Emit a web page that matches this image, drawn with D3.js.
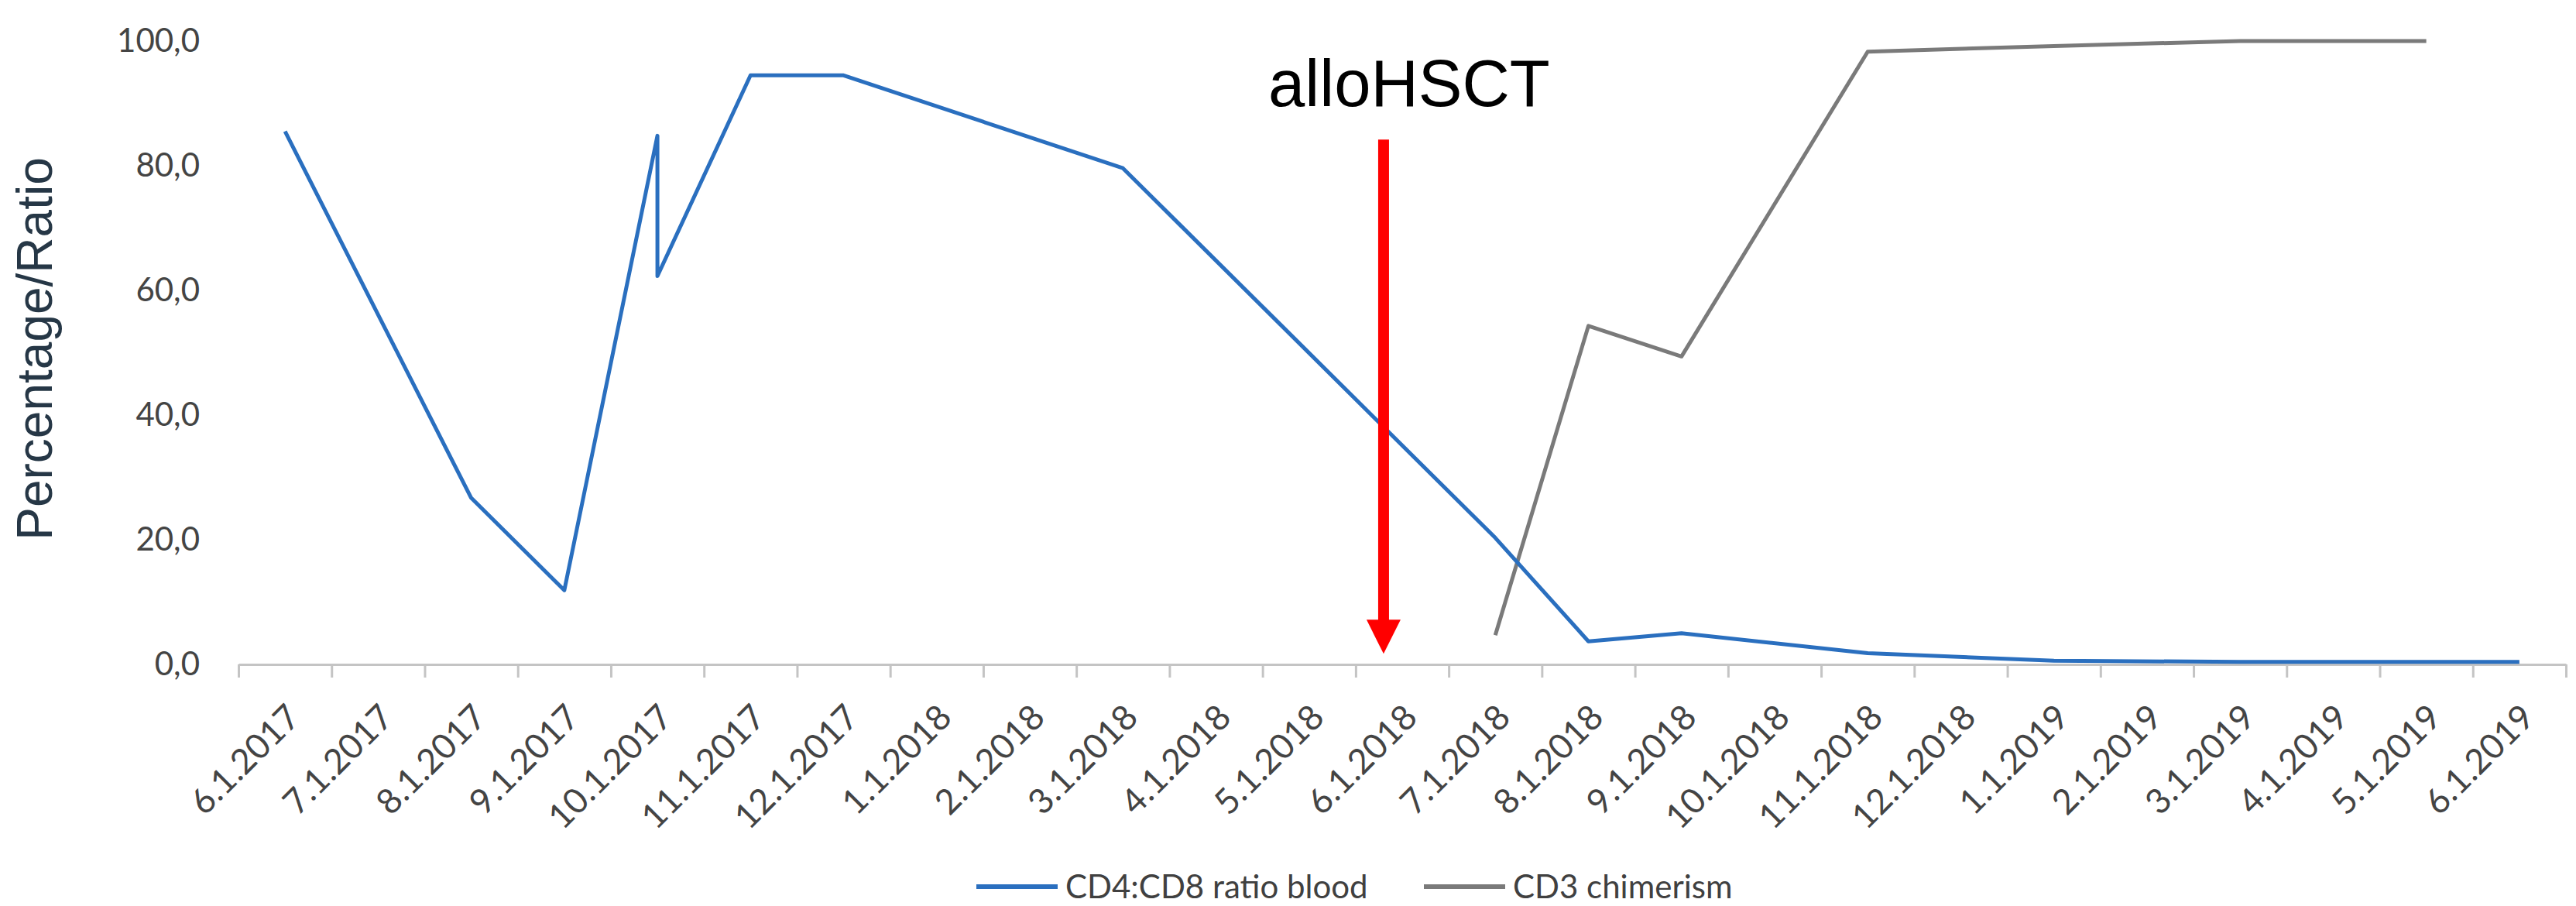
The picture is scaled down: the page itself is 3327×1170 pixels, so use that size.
<!DOCTYPE html>
<html>
<head>
<meta charset="utf-8">
<script src="https://cdnjs.cloudflare.com/ajax/libs/d3/7.8.5/d3.min.js"></script>
<style>
  body { margin: 0; background: #fff; }
</style>
</head>
<body>
<div id="chart"></div>
<script>
// month categories along the x axis
var months = ["6.1.2017", "7.1.2017", "8.1.2017", "9.1.2017", "10.1.2017", "11.1.2017",
    "12.1.2017", "1.1.2018", "2.1.2018", "3.1.2018", "4.1.2018", "5.1.2018", "6.1.2018",
    "7.1.2018", "8.1.2018", "9.1.2018", "10.1.2018", "11.1.2018", "12.1.2018", "1.1.2019",
    "2.1.2019", "3.1.2019", "4.1.2019", "5.1.2019", "6.1.2019"];

var yTicks = [0, 20, 40, 60, 80, 100];

// CD4:CD8 ratio blood
var cd4Months = ["6.1.2017", "8.1.2017", "9.1.2017", "10.1.2017", "10.1.2017", "11.1.2017",
    "12.1.2017", "3.1.2018", "7.1.2018", "8.1.2018", "9.1.2018", "11.1.2018", "1.1.2019",
    "3.1.2019", "5.1.2019", "6.1.2019"];
var cd4Values = [85.5, 26.7, 11.9, 84.8, 62.3, 94.5, 94.5, 79.6, 20.3, 3.7, 5.0, 1.8, 0.6, 0.4, 0.4, 0.4];

// CD3 chimerism
var cd3Months = ["7.1.2018", "8.1.2018", "9.1.2018", "11.1.2018", "1.1.2019", "3.1.2019", "5.1.2019"];
var cd3Values = [4.7, 54.3, 49.4, 98.3, 99.2, 100, 100];

var seriesNames = ["CD4:CD8 ratio blood", "CD3 chimerism"];
var seriesColors = ["#2a6fbf", "#7a7a7a"];

// transplant marker, in months from the start of the axis
var hsctLabel = "alloHSCT";
var hsctAt = 12.3;
var hsctTop = 84.2;
var hsctTip = 1.7;

var svgWidth = 3327;
var svgHeight = 1170;
var margin = { top: 53, right: 13, bottom: 312, left: 308 };
var width = svgWidth - margin.left - margin.right;
var height = svgHeight - margin.top - margin.bottom;

var svg = d3.select("#chart")
    .append("svg")
    .attr("width", svgWidth)
    .attr("height", svgHeight)
    .style("background", "#fff");

var chart = svg.append("g")
    .attr("transform", "translate(" + margin.left + "," + margin.top + ")");

// x in month units, categories sit between the tick marks
var x = d3.scaleLinear().domain([0, months.length]).range([0, width]);
var xBand = d3.scaleBand().domain(months).range([0, width]);
var y = d3.scaleLinear().domain([0, 100]).range([height, 0]);

function xm(label) {
    return x(months.indexOf(label) + 0.5);
}

// tick marks on month boundaries
var tickAxis = chart.append("g")
    .attr("transform", "translate(0," + height + ")")
    .call(d3.axisBottom(x).tickValues(d3.range(months.length + 1)).tickSize(17).tickSizeOuter(0).tickFormat(""));
tickAxis.select(".domain").attr("stroke", "#c4c4c4").attr("stroke-width", 3);
tickAxis.selectAll(".tick line").attr("stroke", "#c4c4c4").attr("stroke-width", 3);

// month labels, rotated
var labelAxis = chart.append("g")
    .attr("transform", "translate(0," + height + ")")
    .call(d3.axisBottom(xBand).tickSize(0));
labelAxis.select(".domain").remove();
labelAxis.selectAll("text")
    .attr("x", 0)
    .attr("y", 0)
    .attr("dy", 0)
    .attr("text-anchor", "end")
    .attr("transform", "translate(22,71) rotate(-45)")
    .attr("fill", "#444")
    .style("font-family", "Lato, sans-serif")
    .style("font-size", "45px");

// y axis, only labels
var leftAxis = chart.append("g")
    .call(d3.axisLeft(y).tickValues(yTicks).tickSize(0).tickPadding(50)
        .tickFormat(function(d) { return d.toFixed(1).replace(".", ","); }));
leftAxis.select(".domain").remove();
leftAxis.selectAll("text")
    .attr("fill", "#444")
    .style("font-family", "Lato, sans-serif")
    .style("font-size", "42px");

svg.append("text")
    .attr("transform", "translate(67," + (margin.top + height / 2 - 5) + ") rotate(-90)")
    .attr("text-anchor", "middle")
    .attr("fill", "#263746")
    .style("font-family", "'Liberation Sans', Arial, sans-serif")
    .style("font-size", "64px")
    .text("Percentage/Ratio");

// lines
var line = d3.line()
    .x(function(d) { return xm(d[0]); })
    .y(function(d) { return y(d[1]); });

var cd4Data = d3.zip(cd4Months, cd4Values);
var cd3Data = d3.zip(cd3Months, cd3Values);

chart.append("path")
    .datum(cd3Data)
    .attr("fill", "none")
    .attr("stroke", seriesColors[1])
    .attr("stroke-width", 5)
    .attr("stroke-linejoin", "round")
    .attr("d", line);

chart.append("path")
    .datum(cd4Data)
    .attr("fill", "none")
    .attr("stroke", seriesColors[0])
    .attr("stroke-width", 5)
    .attr("stroke-linejoin", "round")
    .attr("d", line);

// red arrow for the transplant
var ax = x(hsctAt);
chart.append("line")
    .attr("x1", ax).attr("x2", ax)
    .attr("y1", y(hsctTop)).attr("y2", y(hsctTip) - 40)
    .attr("stroke", "#ff0000")
    .attr("stroke-width", 14);
chart.append("path")
    .attr("d", "M" + (ax - 22) + "," + (y(hsctTip) - 44) + "L" + (ax + 22) + "," + (y(hsctTip) - 44) + "L" + ax + "," + y(hsctTip) + "Z")
    .attr("fill", "#ff0000");
chart.append("text")
    .attr("x", ax + 33)
    .attr("y", y(hsctTop) - 43)
    .attr("text-anchor", "middle")
    .attr("fill", "#000")
    .style("font-family", "'Liberation Sans', Arial, sans-serif")
    .style("font-size", "85px")
    .text(hsctLabel);

// legend
var legend = svg.append("g").attr("transform", "translate(1261,1145)");
var legendX = [0, 578];
seriesNames.forEach(function(name, i) {
    var g = legend.append("g").attr("transform", "translate(" + legendX[i] + ",0)");
    g.append("line")
        .attr("x1", 0).attr("x2", 105)
        .attr("y1", 0).attr("y2", 0)
        .attr("stroke", seriesColors[i])
        .attr("stroke-width", 6);
    g.append("text")
        .attr("x", 115)
        .attr("dy", "0.35em")
        .attr("fill", "#404040")
        .style("font-family", "Lato, sans-serif")
        .style("font-size", "42px")
        .text(name);
});
</script>
</body>
</html>
